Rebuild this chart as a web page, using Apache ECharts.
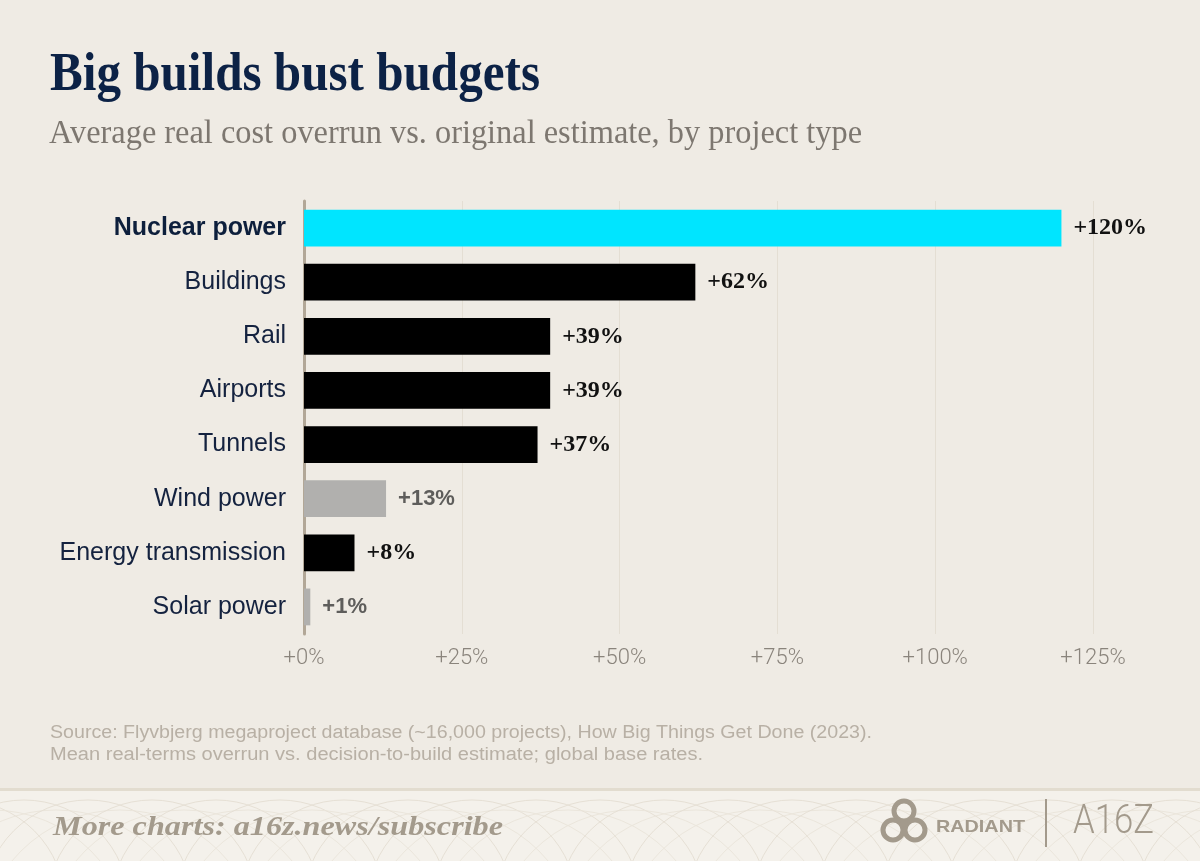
<!DOCTYPE html>
<html>
<head>
<meta charset="utf-8">
<title>Big builds bust budgets</title>
<script src="https://cdn.jsdelivr.net/npm/echarts@6/dist/echarts.min.js"></script>
<style>
  html, body { margin: 0; padding: 0; background: #efebe4; }
  #chart { width: 1200px; height: 861px; }
</style>
</head>
<body>
<div id="chart"></div>
<script>
// 数据
const categories = ['Nuclear power', 'Buildings', 'Rail', 'Airports', 'Tunnels', 'Wind power', 'Energy transmission', 'Solar power']
const overrunPct = [120, 62, 39, 39, 37, 13, 8, 1]
const projectGroup = ['focus', 'conventional', 'conventional', 'conventional', 'conventional', 'renewable', 'conventional', 'renewable']
const axisTicks = [0, 25, 50, 75, 100, 125]

const titleText = 'Big builds bust budgets'
const subtitleText = 'Average real cost overrun vs. original estimate, by project type'
const sourceLines = [
  'Source: Flyvbjerg megaproject database (~16,000 projects), How Big Things Get Done (2023).',
  'Mean real-terms overrun vs. decision-to-build estimate; global base rates.'
]
const ctaText = 'More charts: a16z.news/subscribe'

// 颜色
const groupColor = { focus: '#00e5ff', conventional: '#000000', renewable: '#b1b0ae' }
const navy = '#14223f'
const brand = '#a39a8c'

// 文本宽度适配
const measureCtx = document.createElement('canvas').getContext('2d')
const fitX = (text, font, width) => {
  measureCtx.font = font
  return width / measureCtx.measureText(text).width
}

const textEl = (text, x, baseline, size, family, weight, color, width, italic) => {
  const font = `${italic ? 'italic ' : ''}${weight} ${size}px ${family}`
  return {
    type: 'text',
    x: x,
    y: baseline - size * 0.34,
    scaleX: width ? fitX(text, font, width) : 1,
    silent: true,
    style: { text: text, font: font, fill: color, align: 'left', verticalAlign: 'middle' }
  }
}

// 页脚花纹
const footerArcs = []
for (let cx = -40; cx < 1260; cx += 64) {
  footerArcs.push({ type: 'circle', silent: true, shape: { cx: cx, cy: 905, r: 105 },
    style: { fill: 'none', stroke: '#e6e0d5', lineWidth: 1 } })
  footerArcs.push({ type: 'circle', silent: true, shape: { cx: cx + 32, cy: 950, r: 140 },
    style: { fill: 'none', stroke: '#ebe6dc', lineWidth: 1 } })
}

const logo = [
  { type: 'circle', silent: true, shape: { cx: 904, cy: 811, r: 10 }, style: { fill: 'none', stroke: brand, lineWidth: 5 } },
  { type: 'circle', silent: true, shape: { cx: 893, cy: 830, r: 10 }, style: { fill: 'none', stroke: brand, lineWidth: 5 } },
  { type: 'circle', silent: true, shape: { cx: 915, cy: 830, r: 10 }, style: { fill: 'none', stroke: brand, lineWidth: 5 } },
  { type: 'polygon', silent: true, shape: { points: [[899, 820], [909, 820], [904, 828]] }, style: { fill: brand } },
  textEl('RADIANT', 936, 833, 17, '"Liberation Sans"', 'bold', brand, 89),
  { type: 'line', silent: true, shape: { x1: 1046, y1: 799, x2: 1046, y2: 847 }, style: { stroke: brand, lineWidth: 2 } },
  textEl('A16Z', 1073, 837, 41, 'Roboto', 300, brand, 81)
]

const graphics = [
  { type: 'rect', silent: true, shape: { x: 0, y: 790, width: 1200, height: 71 }, style: { fill: '#f4f1eb' } },
  ...footerArcs,
  { type: 'rect', silent: true, shape: { x: 0, y: 788, width: 1200, height: 3 }, style: { fill: '#e2dccf' } },
  textEl(titleText, 50, 94.5, 54, '"Liberation Serif"', 'bold', '#0c2246', 490),
  textEl(subtitleText, 49, 146, 34, '"Liberation Serif"', 'normal', '#7d7770', 813),
  textEl(sourceLines[0], 50, 739, 18, '"Liberation Sans"', 'normal', '#b8b0a5', 822),
  textEl(sourceLines[1], 50, 761, 18, '"Liberation Sans"', 'normal', '#b8b0a5', 653),
  textEl(ctaText, 53, 837, 27, '"Liberation Serif"', 'bold', brand, 450, true),
  ...logo
]

const barData = overrunPct.map((v, i) => {
  const muted = projectGroup[i] === 'renewable'
  return {
    value: v,
    itemStyle: { color: groupColor[projectGroup[i]] },
    label: muted
      ? { fontFamily: '"Liberation Sans"', fontWeight: 'bold', fontSize: 22, color: '#5e5d5b' }
      : { fontFamily: '"Liberation Serif"', fontWeight: 'bold', fontSize: 24, color: '#111111' }
  }
})

const chart = echarts.init(document.getElementById('chart'))
chart.setOption({
  backgroundColor: '#efebe4',
  animation: false,
  graphic: graphics,
  grid: { left: 304, right: 107, top: 201, bottom: 227 },
  xAxis: {
    type: 'value',
    min: axisTicks[0],
    max: axisTicks[axisTicks.length - 1],
    interval: axisTicks[1] - axisTicks[0],
    axisLine: { show: false },
    axisTick: { show: false },
    splitLine: { lineStyle: { color: '#e4ded3', width: 1 } },
    axisLabel: {
      formatter: '+{value}%',
      margin: 13,
      color: '#8a847c',
      fontFamily: 'Roboto',
      fontWeight: 300,
      fontSize: 22
    }
  },
  yAxis: {
    type: 'category',
    inverse: true,
    data: categories,
    axisLine: { show: true, lineStyle: { color: '#b2a797', width: 3 } },
    axisTick: { show: false },
    axisLabel: {
      margin: 18,
      formatter: (v, i) => projectGroup[i] === 'focus' ? `{hi|${v}}` : `{n|${v}}`,
      rich: {
        hi: { fontFamily: '"Liberation Sans"', fontWeight: 'bold', fontSize: 25, color: '#0d1f3c' },
        n: { fontFamily: '"Liberation Sans"', fontSize: 25, color: navy }
      }
    }
  },
  series: [{
    type: 'bar',
    data: barData,
    barCategoryGap: '32%',
    label: {
      show: true,
      position: 'right',
      distance: 12,
      formatter: p => `+${p.value}%`
    }
  }]
})
</script>
</body>
</html>
